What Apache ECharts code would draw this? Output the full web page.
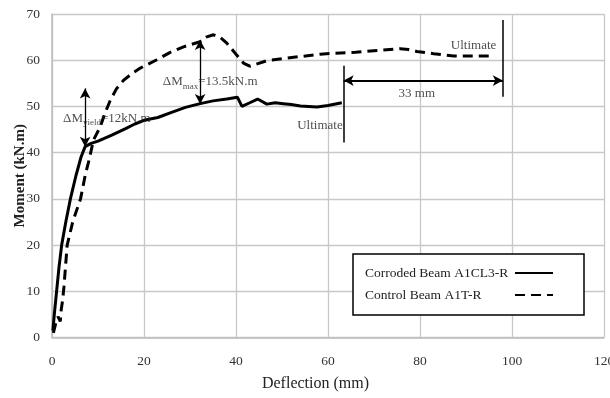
<!DOCTYPE html>
<html>
<head>
<meta charset="utf-8">
<script src="https://cdn.jsdelivr.net/npm/echarts@6/dist/echarts.min.js"></script>
<style>html,body{margin:0;padding:0;background:#fff}#c{width:610px;height:398px}</style>
</head>
<body>
<div id="c"></div>
<script>
// ---- data ----
var corrodedName = 'Corroded Beam A1CL3-R';
var controlName = 'Control Beam A1T-R';
var corrodedDeflection = [0.2,0.5,1.0,1.5,2.1,3.0,4.0,5.2,6.3,7.2,8.5,10,13,16,18,20,23,26,29,32.2,35,38,40.3,41.3,43,44.7,46.7,48.5,50.3,52,54,57.6,60,63];
var corrodedMoment    = [1.5,5,10,15,20,25,30,35,39,41.3,42,42.5,43.8,45.2,46.2,47,47.6,48.7,49.8,50.6,51.2,51.6,52,50,50.8,51.6,50.5,50.8,50.6,50.4,50.1,49.9,50.2,50.8];
var controlDeflection = [0.3,0.8,1.3,1.8,2.0,2.3,2.6,3.3,4.5,6.2,7.2,8.2,9,10.5,11.5,12.7,14,15.6,17.5,19.2,22.8,25.5,28.6,32.2,33.5,35.1,36.5,38,40,41.7,43,46.7,50,54,58.3,61.2,66,70.7,75.7,77.5,79.3,83,87.3,91.7,95.3];
var controlMoment     = [1,3,4.5,3.5,6,8,11,20,25,30,35,39,42.7,45.6,48.5,51.4,53.8,55.7,57.2,58.3,60.1,61.6,62.9,64,65,65.5,65,63.7,61.3,59.3,58.7,59.9,60.3,60.8,61.3,61.5,61.7,62.1,62.5,62.3,61.9,61.4,60.9,60.9,60.9];
var xTicks = [0,20,40,60,80,100,120];
var yTicks = [0,10,20,30,40,50,60,70];
// annotations: [x1,y1,x2,y2]
var yieldArrow = [7.2,53.9,7.2,41.3];
var maxArrow = [32.2,64.4,32.2,50.5];
var spanArrow = [63.4,55.6,98,55.6];
var corrodedUltimateLine = [63.4,58.8,63.4,42.2];
var controlUltimateLine = [98,68.7,98,52.1];
// annotation text anchors [x,y]
var yieldLabelAt = [2.4,47.8];
var maxLabelAt = [24.1,55.6];
var spanLabelAt = [79.3,53.1];
var corrodedUltimateAt = [63.2,46.1];
var controlUltimateAt = [96.6,63.4];

function pairs(xs, ys){ return xs.map(function(x,i){return [x, ys[i]];}); }
function seg(a){ return [{coord:[a[0],a[1]]},{coord:[a[2],a[3]]}]; }

var serif = '"Liberation Serif","Times New Roman",serif';
var chart = echarts.init(document.getElementById('c'), null, {renderer:'canvas'});

var option = {
  animation:false,
  backgroundColor:'#fff',
  grid:{left:52,top:14,width:552,height:323.5,containLabel:false,outerBoundsMode:'none'},
  xAxis:{
    type:'value',min:0,max:120,interval:20,
    name:'Deflection (mm)',nameLocation:'middle',nameGap:38,nameMoveOverlap:false,
    nameTextStyle:{fontFamily:serif,fontSize:16,color:'#222',padding:[0,25,0,0]},
    axisLine:{lineStyle:{color:'#bdbdbd',width:1.5}},
    axisTick:{show:false},
    axisLabel:{fontFamily:serif,fontSize:13.5,color:'#333',margin:17},
    splitLine:{show:true,lineStyle:{color:'#c8c8c8',width:1.3}}
  },
  yAxis:{
    type:'value',min:0,max:70,interval:10,
    name:'Moment (kN.m)',nameLocation:'middle',nameGap:24,nameMoveOverlap:false,
    nameTextStyle:{fontFamily:serif,fontSize:15,fontWeight:'bold',color:'#222'},
    axisLine:{show:true,lineStyle:{color:'#bdbdbd',width:1.5}},
    axisTick:{show:false},
    axisLabel:{fontFamily:serif,fontSize:13.5,color:'#333',margin:12},
    splitLine:{show:true,lineStyle:{color:'#c8c8c8',width:1.3}}
  },
  legend:{
    orient:'vertical',left:353,top:254,align:'right',
    itemWidth:38,itemHeight:10,itemGap:8,
    padding:[12,30,13,12],
    borderColor:'#000',borderWidth:1.5,backgroundColor:'#fff',
    itemStyle:{color:'rgba(0,0,0,0)',borderWidth:0,opacity:0},
    formatter:function(n){ return '{n|' + n + '}'; },
    textStyle:{fontFamily:serif,fontSize:13,color:'#222',
      rich:{n:{fontFamily:serif,fontSize:13.5,color:'#222',width:145,align:'left'}}},
    data:[{name:corrodedName},{name:controlName}]
  },
  series:[
    {
      name:corrodedName,type:'line',data:pairs(corrodedDeflection,corrodedMoment),
      symbol:'none',smooth:false,
      lineStyle:{color:'#000',width:3},itemStyle:{color:'#000'},
      markLine:{silent:true,symbol:['none','none'],label:{show:false},lineStyle:{color:'#000',width:1.5,type:'solid'},
        data:[seg(corrodedUltimateLine),seg(controlUltimateLine)]}
    },
    {
      name:controlName,type:'line',data:pairs(controlDeflection,controlMoment),
      symbol:'none',
      lineStyle:{color:'#000',width:3,type:[10,6]},itemStyle:{color:'#000'},
      markLine:{silent:true,symbol:['arrow','arrow'],symbolSize:[8,10],label:{show:false},lineStyle:{color:'#000',width:1.3,type:'solid'},
        data:[seg(yieldArrow),seg(maxArrow),(function(){var s=seg(spanArrow);s.forEach(function(p){p.lineStyle={width:2.2};});return s;})()]}
    },
    {
      name:'labels',type:'scatter',symbolSize:0,silent:true,z:10,
      data:[
        {value:yieldLabelAt,label:{show:true,position:'right',distance:0,formatter:'{a|ΔM}{s|yield}{a|=12kN.m}'}},
        {value:maxLabelAt,label:{show:true,position:'right',distance:0,formatter:'{a|ΔM}{s|max}{a|=13.5kN.m}'}},
        {value:spanLabelAt,label:{show:true,position:'inside',formatter:'{a|33 mm}'}},
        {value:corrodedUltimateAt,label:{show:true,position:'left',distance:0,formatter:'{a|Ultimate}'}},
        {value:controlUltimateAt,label:{show:true,position:'left',distance:0,formatter:'{a|Ultimate}'}}
      ],
      label:{rich:{
        a:{fontFamily:serif,fontSize:13,color:'#222',lineHeight:16,verticalAlign:'bottom'},
        s:{fontFamily:serif,fontSize:9,color:'#222',lineHeight:16,verticalAlign:'bottom',padding:[0,0,-3,0]}
      }}
    }
  ]
};
chart.setOption(option);
</script>
</body>
</html>
